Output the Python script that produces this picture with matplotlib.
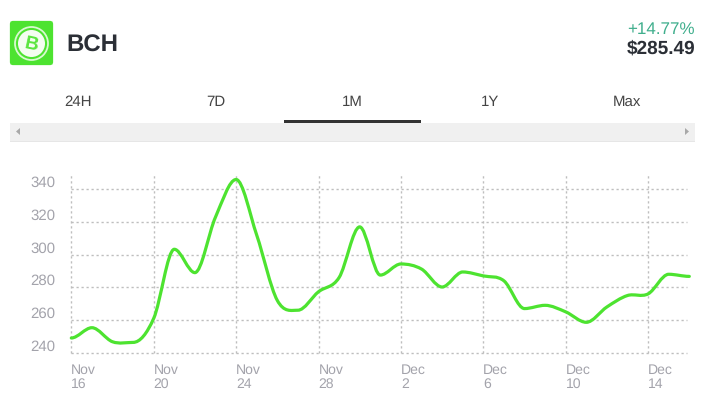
import numpy as np
import matplotlib
matplotlib.use('Agg')
import matplotlib.pyplot as plt
from matplotlib.path import Path
from matplotlib.patches import PathPatch, Rectangle, FancyBboxPatch, Circle, Polygon

plt.rcParams['font.family'] = ['Liberation Sans', 'DejaVu Sans']
plt.rcParams['text.hinting'] = 'no_hinting'
plt.rcParams['text.hinting_factor'] = 1

# Daily BCH price, Nov 16 to Dec 16
prices = [249, 255.3, 246.7, 246.3, 261, 303.3, 289, 323, 346, 312, 272,
          266, 277.3, 286, 317, 287.5, 294.3, 291.2, 280.2, 289.4, 287,
          284, 267, 269, 265, 258.6, 268, 275, 276, 288, 286.7]
days = list(range(len(prices)))

x_ticks = [0, 4, 8, 12, 16, 20, 24, 28]
x_labels = ['Nov\n16', 'Nov\n20', 'Nov\n24', 'Nov\n28', 'Dec\n2', 'Dec\n6', 'Dec\n10', 'Dec\n14']
y_ticks = [240, 260, 280, 300, 320, 340]

tabs = ['24H', '7D', '1M', '1Y', 'Max']
tab_centers = [78.5, 216, 352.5, 490, 627]

W, H = 701, 393
GREEN = '#4de330'
fig = plt.figure(figsize=(W / 100, H / 100), dpi=100)

# page furniture is laid out in pixels
ui = fig.add_axes([0, 0, 1, 1])
ui.set_xlim(0, W)
ui.set_ylim(H, 0)
ui.axis('off')

ui.add_patch(FancyBboxPatch((13, 24), 37, 38, boxstyle='round,pad=0,rounding_size=0.1',
                            mutation_scale=1, fc=GREEN, ec=GREEN, lw=4.5))
ui.add_patch(Circle((31.5, 43.5), 16.5, fc='none', ec='#d8f9d0', lw=1.3))
ui.add_patch(Circle((31.5, 43.5), 13.5, fc='#f4fdf1', ec='none'))
ui.text(31.5, 45, 'B', color='#5ae53e', fontsize=14, fontweight='bold', rotation=-12,
        ha='center', va='center')

ui.text(66, 46, 'BCH', color='#2b2f36', fontsize=17, fontweight='bold', va='center')
ui.text(695, 30, '+14.77%', color='#3fae8c', fontsize=12.3, ha='right', va='center')
ui.text(695, 49, '$285.49', color='#2b2f36', fontsize=13.5, fontweight='bold', ha='right', va='center')

for name, cx in zip(tabs, tab_centers):
    ui.text(cx, 102, name, color='#444444', fontsize=10.5, ha='center', va='center')

ui.add_patch(Rectangle((284, 120), 137, 3, fc='#333333', ec='none'))
ui.add_patch(Rectangle((10, 123), 685, 18, fc='#f0f0f0', ec='none'))
ui.add_patch(Rectangle((10, 141), 685, 1, fc='#e6e6e6', ec='none'))
ui.add_patch(Polygon([[16, 131.5], [20, 128], [20, 135]], fc='#a8a8a8', ec='none'))
ui.add_patch(Polygon([[689, 131.5], [685, 128], [685, 135]], fc='#a8a8a8', ec='none'))

# chart area, pixel box from the reference
left, right, top, bottom = 71.3, 686.7, 173, 352.7
ax = fig.add_axes([left / W, 1 - bottom / H, (right - left) / W, (bottom - top) / H])
ax.patch.set_alpha(0)
ax.set_xlim(0, (right - left) / 20.6)
ax.set_ylim(240, 240 + (bottom - top) / 1.634)
for s in ax.spines.values():
    s.set_visible(False)
ax.set_xticks(x_ticks)
ax.set_yticks(y_ticks)
ax.tick_params(length=0, labelbottom=False, labelleft=False)
ax.grid(True, color='#bebebe', lw=1.0, linestyle=(0, (1.6, 2.0)), clip_on=False)
ax.set_axisbelow(True)

for v in y_ticks:
    ax.annotate(str(v), xy=(0, v), xycoords=('axes fraction', 'data'),
                xytext=(-41, 6), textcoords='offset pixels',
                color='#a3a3ab', fontsize=10.8, ha='left', va='center')
for d, lab in zip(x_ticks, x_labels):
    ax.annotate(lab, xy=(d, 0), xycoords=('data', 'axes fraction'),
                xytext=(0, -11), textcoords='offset pixels',
                color='#a3a3ab', fontsize=10.4, ha='left', va='top', linespacing=1.1)

# smooth line through the daily prices, flat at local peaks and dips
xs = np.array(days, dtype=float)
ys = np.array(prices, dtype=float)
verts = [(xs[0], ys[0])]
codes = [Path.MOVETO]
slopes = np.zeros(len(ys))
for i in range(1, len(ys) - 1):
    a, b = ys[i] - ys[i - 1], ys[i + 1] - ys[i]
    if a * b > 0:
        slopes[i] = (a + b) / 2
for i in range(len(ys) - 1):
    verts += [(xs[i] + 1 / 3, ys[i] + slopes[i] / 3),
              (xs[i + 1] - 1 / 3, ys[i + 1] - slopes[i + 1] / 3),
              (xs[i + 1], ys[i + 1])]
    codes += [Path.CURVE4, Path.CURVE4, Path.CURVE4]
ax.add_patch(PathPatch(Path(verts, codes), fc='none', ec=GREEN, lw=2.3,
                       clip_on=False, capstyle='round', joinstyle='round', zorder=3))

fig.savefig('out.png', dpi=100)
